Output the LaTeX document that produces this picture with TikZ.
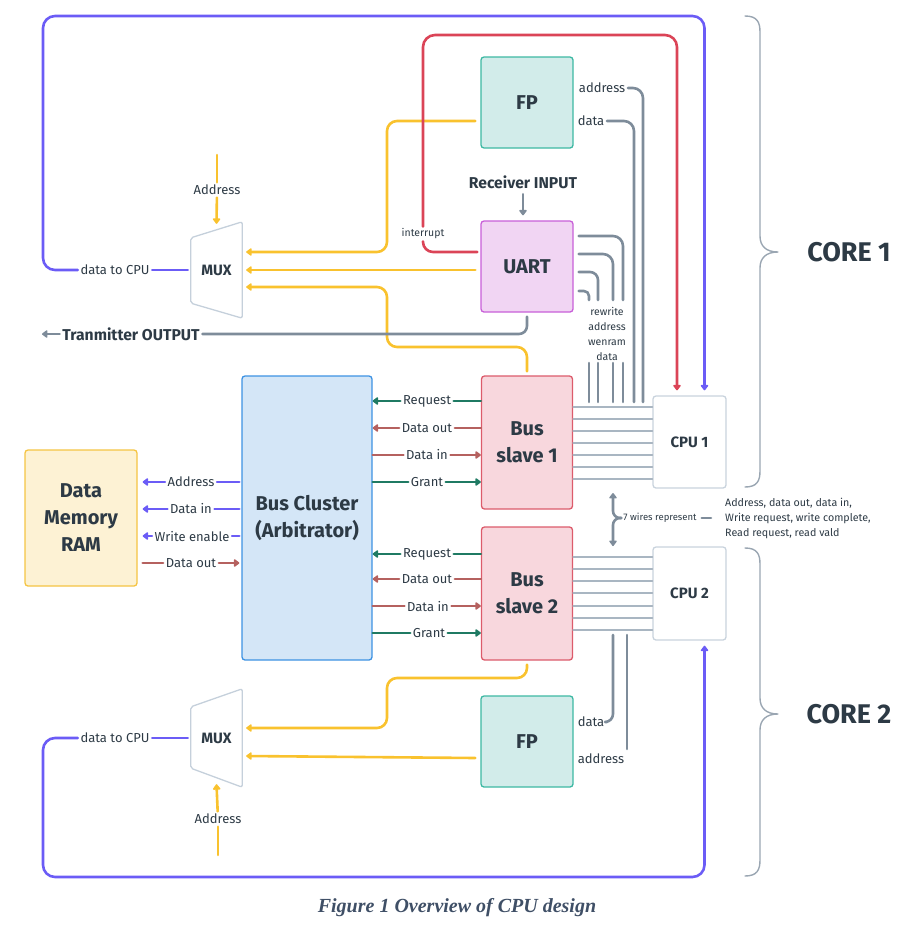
\documentclass[tikz,border=0pt]{standalone}
\usepackage{fontspec}
\setmainfont{Fira Sans}
\newfontfamily\capfont{Liberation Serif}
\usetikzlibrary{arrows.meta,calc}

\definecolor{ink}{HTML}{2D3A45}
\definecolor{bluew}{HTML}{6B5CF6}
\definecolor{yelw}{HTML}{F9C22E}
\definecolor{redw}{HTML}{DB4457}
\definecolor{grayw}{HTML}{7E8C9A}
\definecolor{lightw}{HTML}{A9B6C2}
\definecolor{greenw}{HTML}{1F7A63}
\definecolor{brownw}{HTML}{B5615F}
\definecolor{fpfill}{HTML}{D2ECEA}
\definecolor{fpline}{HTML}{3DB8A3}
\definecolor{uafill}{HTML}{F1D5F3}
\definecolor{ualine}{HTML}{C85FD8}
\definecolor{bsfill}{HTML}{F8D7DD}
\definecolor{bsline}{HTML}{DC5B6B}
\definecolor{bcfill}{HTML}{D4E6F7}
\definecolor{bcline}{HTML}{3D92E3}
\definecolor{dmfill}{HTML}{FDF2D4}
\definecolor{dmline}{HTML}{F5C443}
\definecolor{cpuline}{HTML}{C9D3DD}
\definecolor{muxline}{HTML}{C5D0DB}
\definecolor{bracec}{HTML}{9AA6B2}
\definecolor{capc}{HTML}{3F4F66}

\begin{document}
\begin{tikzpicture}[x=1pt,y=-1pt,line join=round,line cap=round,
  box/.style={draw,line width=1.3pt,rounded corners=3pt,inner sep=0pt,align=center,
    text=ink,font=\bfseries\fontsize{20}{27}\selectfont},
  fpbox/.style={box,fill=fpfill,draw=fpline,minimum width=92pt,minimum height=91pt},
  uartbox/.style={box,fill=uafill,draw=ualine,minimum width=92pt,minimum height=91pt},
  slavebox/.style={box,fill=bsfill,draw=bsline,minimum width=91pt,minimum height=133pt},
  busbox/.style={box,fill=bcfill,draw=bcline,minimum width=130pt,minimum height=284pt},
  membox/.style={box,fill=dmfill,draw=dmline,minimum width=112pt,minimum height=136pt},
  cpubox/.style={box,fill=white,draw=cpuline,minimum width=73pt,minimum height=92pt,
    font=\bfseries\fontsize{15}{18}\selectfont},
  muxnode/.style={inner sep=0pt,minimum width=51pt,text=ink,
    font=\bfseries\fontsize{15}{18}\selectfont},
  muxedge/.style={draw=muxline,line width=1.3pt,rounded corners=2pt},
  lbl/.style={text=ink,inner sep=2.5pt,font=\fontsize{13}{15}\selectfont},
  smalllbl/.style={text=ink,inner sep=2pt,font=\fontsize{10.5}{15}\selectfont},
  tinylbl/.style={text=ink,inner sep=2pt,font=\fontsize{9.5}{15}\selectfont},
  desclbl/.style={text=ink,inner sep=2pt,font=\fontsize{10.7}{15}\selectfont},
  boldlbl/.style={text=ink,inner sep=2.5pt,font=\bfseries\fontsize{15.7}{18}\selectfont},
  corelbl/.style={text=ink,inner sep=0pt,font=\bfseries\fontsize{27}{30}\selectfont},
  wire/.style={line width=2.6pt,rounded corners=10pt},
  bw/.style={wire,draw=bluew},
  yw/.style={wire,draw=yelw},
  rw/.style={wire,draw=redw},
  gw/.style={wire,draw=grayw},
  grw/.style={wire,draw=greenw},
  brw/.style={wire,draw=brownw},
  lw/.style={line width=1.7pt,draw=lightw},
  arr/.style={-{Triangle[length=6pt,width=8.5pt,round]}},
  bracket/.style={draw=bracec,line width=1.4pt}]

\useasboundingbox (0,0) rectangle (918,927);

% ---------- blocks ----------
\node[fpbox] (fp1) at (527,102.5) {FP};
\node[uartbox] (uart) at (527,266.5) {UART};
\node[slavebox] (bs1) at (527,442.5) {Bus\\slave 1};
\node[slavebox] (bs2) at (527,593.5) {Bus\\slave 2};
\node[fpbox] (fp2) at (527,741.5) {FP};
\node[busbox] (bc) at (307,518) {Bus Cluster\\(Arbitrator)};
\node[membox] (dm) at (81,518) {Data\\Memory\\RAM};
\node[cpubox] (cpu1) at (689.5,442) {CPU 1};
\node[cpubox,minimum height=93pt] (cpu2) at (689.5,593.5) {CPU 2};

% multiplexers (trapezoid outline around the label node)
\node[muxnode,minimum height=96pt] (mux1) at (216.5,270) {MUX};
\node[muxnode,minimum height=98pt] (mux2) at (216.5,738) {MUX};
\draw[muxedge] (mux1.north east) -- (mux1.south east) -- ([yshift=15pt]mux1.south west)
  -- ([yshift=-16pt]mux1.north west) -- cycle;
\draw[muxedge] (mux2.north east) -- (mux2.south east) -- ([yshift=19pt]mux2.south west)
  -- ([yshift=-18pt]mux2.north west) -- cycle;

% ---------- labels ----------
\node[lbl] (a1) at (217,190) {Address};
\node[lbl] (d1) at (115,270) {data to CPU};
\node[lbl] (a2) at (218,819) {Address};
\node[lbl] (d2) at (115,738) {data to CPU};
\node[smalllbl] (intr) at (423,234) {interrupt};
\node[boldlbl] (rx) at (523,182) {Receiver INPUT};
\node[boldlbl] (tx) at (131,334) {Tranmitter OUTPUT};
\node[lbl,anchor=east] (fa1) at (628,88) {address};
\node[lbl,anchor=east] (fd1) at (607,121) {data};
\node[smalllbl,align=center] (ul) at (607,334) {rewrite\\address\\wenram\\data};
\node[lbl,anchor=east] (fd2) at (607,722) {data};
\node[lbl] (fa2) at (601,759) {address};

\node[lbl] (mA) at (191,482) {Address};
\node[lbl] (mDi) at (191,509) {Data in};
\node[lbl] (mWe) at (192,536) {Write enable};
\node[lbl] (mDo) at (191,563) {Data out};

\node[lbl] (r1) at (427,401) {Request};
\node[lbl] (o1) at (427,428) {Data out};
\node[lbl] (i1) at (427,455) {Data in};
\node[lbl] (g1) at (427,482) {Grant};
\node[lbl] (r2) at (427,554) {Request};
\node[lbl] (o2) at (427,579) {Data out};
\node[lbl] (i2) at (428,606) {Data in};
\node[lbl] (g2) at (429,633) {Grant};

\node[tinylbl] (sw) at (660,518) {7 wires represent};
\node[desclbl,anchor=west,align=left] (wd) at (723,518)
  {Address, data out, data in,\\Write request, write complete,\\Read request, read vald};

\node[corelbl] (core1) at (849,252) {CORE 1};
\node[corelbl] (core2) at (849,714) {CORE 2};

\node[text=capc,font=\capfont\bfseries\itshape\fontsize{20}{24}\selectfont]
  (cap) at (457,908) {Figure 1 Overview of CPU design};

% ---------- free wire ends ----------
\coordinate (a1src) at (217,155);
\coordinate (a2src) at (218,855);
\coordinate (txend) at (42,334);

% ---------- core 1 wiring ----------
% MUX address select
\draw[yw] (a1src) -- (a1);
\draw[yw,arr] (a1) -- ([yshift=-2pt]mux1.north);
% MUX data inputs
\draw[yw,arr] ([xshift=-5pt,yshift=-18.5pt]fp1.west) -| (387,252) -- ([xshift=4pt,yshift=18pt]mux1.east);
\draw[yw,arr] ([xshift=-5pt,yshift=-3.5pt]uart.west) -- ([xshift=4pt]mux1.east);
\draw[yw,arr] ([yshift=4pt]bs1.north) |- (387,347) |- ([xshift=4pt,yshift=-17pt]mux1.east);
% MUX output back to CPU 1
\draw[bw] ([xshift=-3pt]mux1.west) -- (d1);
\draw[bw,rounded corners=12pt,arr] (d1) -| (43,16) -| ([xshift=15pt,yshift=5pt]cpu1.north);
% UART interrupt
\draw[rw] ([xshift=-3pt,yshift=14.5pt]uart.west) -| (intr);
\draw[rw,rounded corners=12pt,arr] (intr) |- (677,35) -- ([xshift=-12.5pt,yshift=5pt]cpu1.north);
% UART serial in / out
\draw[gw,arr] ([yshift=-3pt]rx.south) -- ([yshift=5pt]uart.north -| rx);
\draw[gw,rounded corners=8pt] ([yshift=-4pt]uart.south) |- (tx);
\draw[gw,arr] (tx) -- (txend);
% FP to CPU 1
\draw[gw] (fa1) -| (643,402);
\draw[gw] (fd1) -| (634,402);
% UART to CPU 1
\draw[gw] ([xshift=5pt,yshift=30.5pt]uart.east) -| (623,300);
\draw[gw] ([xshift=5pt,yshift=12.5pt]uart.east) -| (613,300);
\draw[gw,rounded corners=8pt] ([xshift=5pt,yshift=-5.5pt]uart.east) -| (598,300);
\draw[gw,rounded corners=5pt] ([xshift=5pt,yshift=-24.5pt]uart.east) -| (589,300);
\foreach \xx in {589,598,613,623} \draw[gw] (\xx,363) -- (\xx,402);
% bus slave 1 <-> CPU 1
\foreach \yy in {407,419,431,443,455,467,479}
  \draw[lw] (bs1.east |- 0,\yy) -- (cpu1.west |- 0,\yy);

% ---------- bus cluster ----------
\draw[grw,arr] (r1) -- (bc.east |- r1);
\draw[grw] (r1) -- (bs1.west |- r1);
\draw[brw,arr] (o1) -- (bc.east |- o1);
\draw[brw] (o1) -- (bs1.west |- o1);
\draw[brw] (bc.east |- i1) -- (i1);
\draw[brw,arr] (i1) -- (bs1.west |- i1);
\draw[grw] (bc.east |- g1) -- (g1);
\draw[grw,arr] (g1) -- (bs1.west |- g1);

\draw[grw,arr] (r2) -- (bc.east |- r2);
\draw[grw] (r2) -- (bs2.west |- r2);
\draw[brw,arr] (o2) -- (bc.east |- o2);
\draw[brw] (o2) -- (bs2.west |- o2);
\draw[brw] (bc.east |- i2) -- (i2);
\draw[brw,arr] (i2) -- (bs2.west |- i2);
\draw[grw] (bc.east |- g2) -- (g2);
\draw[grw,arr] (g2) -- (bs2.west |- g2);

% memory side
\draw[bw] ([xshift=-2pt]bc.west |- mA) -- (mA);
\draw[bw,arr] (mA) -- ([xshift=5pt]dm.east |- mA);
\draw[bw] ([xshift=-2pt]bc.west |- mDi) -- (mDi);
\draw[bw,arr] (mDi) -- ([xshift=5pt]dm.east |- mDi);
\draw[bw] ([xshift=-2pt]bc.west |- mWe) -- (mWe);
\draw[bw,arr] (mWe) -- ([xshift=5pt]dm.east |- mWe);
\draw[brw] ([xshift=5pt]dm.east |- mDo) -- (mDo);
\draw[brw,arr] (mDo) -- ([xshift=-2pt]bc.west |- mDo);

% 7-wire note
\draw[gw,rounded corners=7pt,arr] (sw.west) -| (613,493);
\draw[gw,rounded corners=7pt,arr] (sw.west) -| (613,546);
\draw[gw,shorten <=3pt,shorten >=12pt] (sw.east) -- (wd.west);

% ---------- core 2 wiring ----------
\foreach \yy in {557,569,581,593,606,618,630}
  \draw[lw] (bs2.east |- 0,\yy) -- (cpu2.west |- 0,\yy);
\draw[gw,rounded corners=8pt] (613,635) |- (fd2);
\draw[gw] (627,635) -- (627,749);

\draw[yw,arr] ([yshift=-4pt]bs2.south) |- (387,678) |- ([xshift=4pt,yshift=10pt]mux2.east);
\draw[yw,arr] ([xshift=-5pt,yshift=-16.5pt]fp2.west) -- ([xshift=4pt,yshift=-18pt]mux2.east);
\draw[yw] (a2src) -- (a2);
\draw[yw,arr] (a2) -- ([yshift=3pt]mux2.south);
\draw[bw] ([xshift=-3pt]mux2.west) -- (d2);
\draw[bw,rounded corners=12pt,arr] (d2) -| (43,877) -| ([xshift=15pt,yshift=-5pt]cpu2.south);

% ---------- core braces ----------
\draw[bracket] (745,16) .. controls (757,16) and (760,22) .. (760,32) -- (760,236)
  .. controls (760,246) and (766,252) .. (778,252)
  .. controls (766,252) and (760,258) .. (760,268) -- (760,471)
  .. controls (760,481) and (757,487) .. (745,487);
\draw[bracket] (745,548) .. controls (757,548) and (760,554) .. (760,564) -- (760,698)
  .. controls (760,708) and (766,714) .. (778,714)
  .. controls (766,714) and (760,720) .. (760,730) -- (760,860)
  .. controls (760,870) and (757,876) .. (745,876);
\end{tikzpicture}
\end{document}
